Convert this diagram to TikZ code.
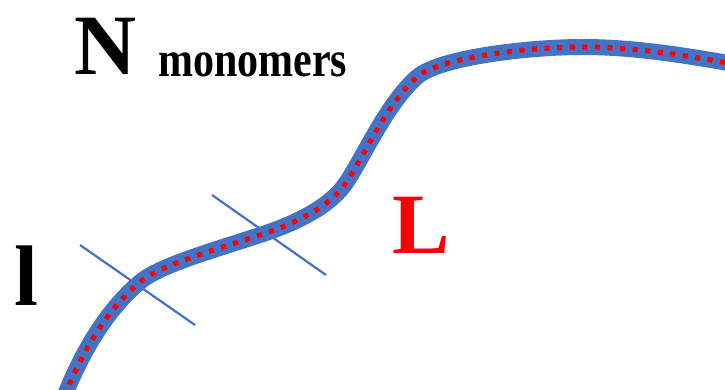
\documentclass[tikz,border=0pt]{standalone}
\usepackage{fontspec}
\setmainfont{Liberation Serif}
\definecolor{chainblue}{HTML}{4472C4}
\definecolor{dotred}{HTML}{FF0000}
\tikzset{
  chain/.style={draw=chainblue, line width=16pt},
  dots/.style={draw=dotred, line width=5pt, dash pattern=on 5pt off 7.6pt},
  tick/.style={draw=chainblue, line width=2.2pt},
  bigtxt/.style={inner sep=0pt, anchor=base west, font=\bfseries\fontsize{86}{86}\selectfont},
  smalltxt/.style={inner sep=0pt, anchor=base west, font=\bfseries\fontsize{42}{42}\selectfont}
}
\begin{document}
\begin{tikzpicture}[x=1pt,y=-1pt]
\useasboundingbox (0,0) rectangle (725,390);
\clip (0,0) rectangle (725,390);
\fill[white] (0,0) rectangle (725,390);
\def\chainpath{(60,408) .. controls (85,340) and (115,303) .. (140,282)
  .. controls (160,265) and (215,250) .. (263,234)
  .. controls (290,225) and (325,210) .. (343,187)
  .. controls (360,165) and (385,105) .. (417,77)
  .. controls (440,57) and (530,47) .. (583,47)
  .. controls (640,47) and (700,58) .. (745,66)}
\draw[chain] \chainpath;
\draw[dots] \chainpath;
\coordinate (c1a) at (80,245);
\coordinate (c1b) at (195,325);
\coordinate (c2a) at (212,195);
\coordinate (c2b) at (326,275);
\draw[tick] (c1a) -- (c1b);
\draw[tick] (c2a) -- (c2b);
\node[bigtxt] (N) at (74,75) {N};
\node[smalltxt] (mono) at (158,77) {\scalebox{1}[1.2]{monomers}};
\node[bigtxt] (l) at (14,305) {l};
\node[bigtxt, text=dotred] (L) at (392,253) {L};
\end{tikzpicture}
\end{document}
